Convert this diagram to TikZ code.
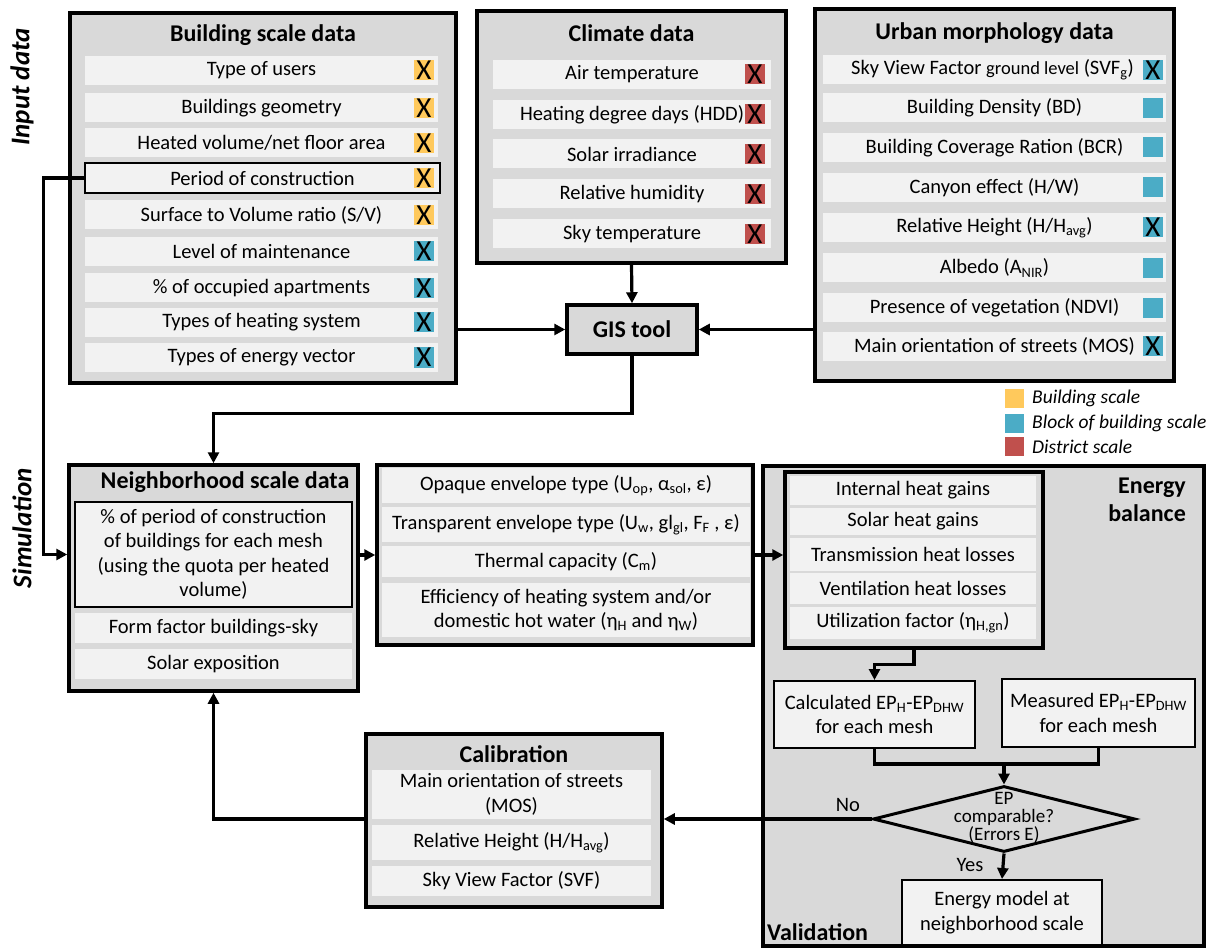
\documentclass[tikz,border=0pt]{standalone}
\usepackage{fontspec}
\setmainfont{Carlito}
\usetikzlibrary{arrows.meta,shapes.geometric,calc}
\definecolor{boxgray}{HTML}{D9D9D9}
\definecolor{rowgray}{HTML}{F2F2F2}
\definecolor{ylw}{HTML}{FFC95C}
\definecolor{blu}{HTML}{4BACC6}
\definecolor{rd}{HTML}{C0504D}
\newcommand\bodyf{\fontsize{20.5}{24.5}\selectfont}
\newcommand\smallf{\fontsize{18.5}{22}\selectfont}
\newcommand\ttlf{\fontsize{24}{28}\selectfont\bfseries}
\newcommand\xf{\fontsize{29}{29}\selectfont}
\newcommand\sub[1]{\textsubscript{#1}}
\tikzset{
  panel/.style={draw, line width=3.5pt, fill=boxgray, inner sep=0pt, rectangle},
  row/.style={fill=rowgray, inner sep=0pt, align=center, font=\bodyf, rectangle},
  frm/.style={row, draw, line width=2pt},
  ttl/.style={font=\ttlf, inner sep=0pt},
  sq/.style={inner sep=0pt, minimum width=20pt, minimum height=20pt, font=\xf},
  conn/.style={line width=3.2pt},
  arr/.style={conn, -{Triangle[length=11pt,width=11pt]}},
  side/.style={font=\fontsize{27}{30}\selectfont\bfseries\itshape, rotate=90, inner sep=0pt},
  lbl/.style={font=\bodyf, inner sep=0pt},
}
\begin{document}
\begin{tikzpicture}[x=1pt,y=-1pt]
\useasboundingbox (0,0) rectangle (1231,949);
% side labels
\node[side] (inp) at (22,87) {Input data};
\node[side] (sim) at (22,528) {Simulation};

% ---------- Building scale data ----------
\node[panel, minimum width=386pt, minimum height=370pt] (bsd) at (263,198) {};
\node[ttl] (bsdt) at (263,35) {Building scale data};
\foreach \n/\y/\t in {b1/70.5/{Type of users}, b2/108/{Buildings geometry}, b3/143/{Heated volume/net floor area},
  b5/215/{Surface to Volume ratio (S/V)}, b6/251.5/{Level of maintenance}, b7/288/{\% of occupied apartments},
  b8/322.5/{Types of heating system}, b9/357.5/{Types of energy vector}}
  \node[row, minimum width=353pt, minimum height=29pt] (\n) at (261.5,\y) {\t};
\node[frm, line width=1.8pt, minimum width=355pt, minimum height=30pt] (b4) at (262.5,178) {Period of construction};
\foreach \n/\y/\c in {mb1/70.5/ylw, mb2/108/ylw, mb3/143/ylw, mb4/178/ylw, mb5/215/ylw, mb6/251.5/blu, mb7/288/blu, mb8/322.5/blu, mb9/357.5/blu}
  \node[sq, fill=\c] (\n) at (424,\y) {X};

% ---------- Climate data ----------
\node[panel, minimum width=309pt, minimum height=252pt] (clim) at (631.5,137) {};
\node[ttl] (climt) at (631.5,33) {Climate data};
\foreach \n/\y/\t in {c1/74.5/{Air temperature}, c2/114.5/{Heating degree days (HDD)}, c3/154/{Solar irradiance},
  c4/194/{Relative humidity}, c5/234/{Sky temperature}}
  \node[row, minimum width=278pt, minimum height=29pt] (\n) at (632,\y) {\t};
\foreach \n/\y in {mc1/74.5, mc2/114.5, mc3/154, mc4/194, mc5/234}
  \node[sq, fill=rd] (\n) at (755,\y) {X};

% ---------- Urban morphology data ----------
\node[panel, minimum width=359pt, minimum height=372pt] (ums) at (994.5,195) {};
\node[ttl] (umst) at (994.5,33) {Urban morphology data};
\node[row, minimum width=343pt, minimum height=29pt] (u1) at (994.5,70) {Sky View Factor {\smallf ground level} (SVF\sub{g})\hspace{4pt}};
\foreach \n/\y/\t in {u2/108/{Building Density (BD)}, u3/147.5/{Building Coverage Ration (BCR)}, u4/187.5/{Canyon effect (H/W)},
  u5/227.5/{Relative Height (H/H\sub{avg})}, u6/268/{Albedo (A\sub{NIR})}, u7/308/{Presence of vegetation (NDVI)},
  u8/346.5/{Main orientation of streets (MOS)}}
  \node[row, minimum width=343pt, minimum height=29pt] (\n) at (994.5,\y) {\t};
\foreach \n/\y/\t in {mu1/70/X, mu2/108/{}, mu3/147.5/{}, mu4/187.5/{}, mu5/227.5/X, mu6/268/{}, mu7/308/{}, mu8/346.5/X}
  \node[sq, fill=blu] (\n) at (1153,\y) {\t};

% ---------- GIS tool ----------
\node[panel, minimum width=130pt, minimum height=49pt, font=\ttlf] (gis) at (632,329.5) {GIS tool};

% ---------- Legend ----------
\foreach \n/\y/\c/\t in {ly/398.5/ylw/{Building scale}, lb/423/blu/{Block of building scale}, lr/446.5/rd/{District scale}}{
  \node[inner sep=0pt, minimum width=19pt, minimum height=19pt, fill=\c] (\n) at (1014.5,\y) {};
  \node[anchor=west, inner sep=0pt, font=\fontsize{19.5}{22}\selectfont\itshape] (\n t) at (1032,\y) {\t};
}

% ---------- Neighborhood scale data ----------
\node[panel, minimum width=289pt, minimum height=226pt] (nb) at (213.5,578) {};
\node[ttl] (nbt) at (225,482) {Neighborhood scale data};
\node[frm, minimum width=277pt, minimum height=105pt] (nbi) at (213.5,554.5)
  {\% of period of construction\\of buildings for each mesh\\(using the quota per heated\\volume)};
\node[row, minimum width=277pt, minimum height=30pt] (nb2) at (213.5,628) {Form factor buildings-sky};
\node[row, minimum width=277pt, minimum height=30pt] (nb3) at (213.5,664) {Solar exposition};

% ---------- Envelope box ----------
\node[panel, minimum width=376pt, minimum height=180pt] (mid) at (565,555) {};
\node[row, minimum width=368pt, minimum height=35pt] (m1) at (566,485.5) {Opaque envelope type (U\sub{op}, α\sub{sol}, ε)};
\node[row, minimum width=368pt, minimum height=35pt] (m2) at (566,524.5) {Transparent envelope type (U\sub{w}, gl\sub{gl}, F\sub{F} , ε)};
\node[row, minimum width=368pt, minimum height=31pt] (m3) at (566,561.5) {Thermal capacity (C\sub{m})};
\node[row, minimum width=368pt, minimum height=54pt] (m4) at (566,610) {Efficiency of heating system and/or\\domestic hot water (η\sub{H} and η\sub{W})};

% ---------- Energy balance / validation ----------
\node[panel, minimum width=441pt, minimum height=480pt] (eb) at (983.5,706) {};
\node[ttl, anchor=north east, align=right] (ebt) at (1186,478) {Energy\\balance};
\node[panel, minimum width=258pt, minimum height=176pt] (ebi) at (914,560) {};
\node[row, minimum width=246pt, minimum height=29pt] (e1) at (913,490.5) {Internal heat gains};
\node[row, minimum width=246pt, minimum height=27pt] (e2) at (913,521.5) {Solar heat gains};
\node[row, minimum width=246pt, minimum height=33pt] (e3) at (913,554.5) {Transmission heat losses};
\node[row, minimum width=246pt, minimum height=31pt] (e4) at (913,588.5) {Ventilation heat losses};
\node[row, minimum width=246pt, minimum height=32pt] (e5) at (913,623) {Utilization factor (η\sub{H,gn})};
\node[frm, minimum width=201pt, minimum height=67pt] (calc) at (874.5,714.5) {Calculated EP\sub{H}-EP\sub{DHW}\\for each mesh};
\node[frm, minimum width=193pt, minimum height=68pt] (meas) at (1098.5,713) {Measured EP\sub{H}-EP\sub{DHW}\\for each mesh};
\node[diamond, draw, line width=3pt, minimum width=262pt, minimum height=66pt, inner sep=0pt] (dia) at (1004,819) {};
\node[align=center, inner sep=0pt, font=\fontsize{19}{18}\selectfont] (diat) at (1004,818) {EP\\comparable?\\(Errors E)};
\node[frm, minimum width=200pt, minimum height=65pt] (em) at (1002,912.5) {Energy model at\\neighborhood scale};
\node[ttl, anchor=west] (val) at (767,932) {Validation};
\node[lbl] (no) at (848,805) {No};
\node[lbl] (yes) at (970,865) {Yes};

% ---------- Calibration ----------
\node[panel, minimum width=296pt, minimum height=173pt] (cal) at (514,820.5) {};
\node[ttl] (calt) at (514,754) {Calibration};
\node[row, minimum width=279pt, minimum height=49pt] (cal1) at (511.5,794.5) {Main orientation of streets\\(MOS)};
\node[row, minimum width=279pt, minimum height=35pt] (cal2) at (511.5,842.5) {Relative Height (H/H\sub{avg})};
\node[row, minimum width=279pt, minimum height=30pt] (cal3) at (511.5,881) {Sky View Factor (SVF)};

% ---------- Connectors ----------
\draw[arr] (bsd.east |- gis.west) -- (gis.west);
\draw[arr] (ums.west |- gis.east) -- (gis.east);
\draw[arr] (clim.south) -- (gis.north);
\draw[arr] (gis.south) -- ++(0,58) -| (nb.north);
\draw[arr] (b4.west) -- ++(-41,0) |- (nb.west |- nbi.center);
\draw[arr] (nb.east |- mid.west) -- (mid.west);
\draw[arr] (mid.east) -- (ebi.west |- mid.east);
\draw[arr] (ebi.south) -- ++(0,15) -| (calc.north);
\draw[conn] (calc.south) -- ++(0,15) -| (meas.south);
\coordinate (join) at (dia.north |- 0,763);
\draw[arr] (join) -- (dia.north);
\draw[arr] (dia.west) -- (cal.east |- dia.west);
\draw[arr] (dia.south) -- (em.north);
\draw[arr] (cal.west |- dia.west) -| (nb.south);
\end{tikzpicture}
\end{document}
